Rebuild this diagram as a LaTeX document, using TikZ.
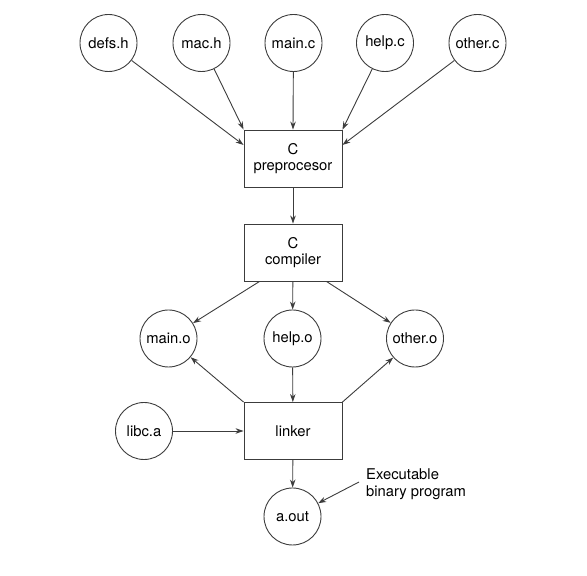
\documentclass[tikz,border=0pt]{standalone}
\usepackage{fontspec}
\setmainfont{TeX Gyre Heros}
\definecolor{LineGray}{RGB}{60, 60, 60}
\usetikzlibrary{arrows.meta, positioning, calc}

\tikzset{
    file/.style={circle, draw=LineGray, line width=0.9pt, minimum size=57pt, inner sep=0pt},
    tool/.style={rectangle, draw=LineGray, line width=0.9pt, minimum width=98pt, minimum height=57pt, align=center, inner sep=0pt},
    flow/.style={-{Stealth[length=8pt, width=5.5pt]}, draw=LineGray, line width=0.9pt}
}

\begin{document}
\begin{tikzpicture}[x=10pt, y=10pt, font=\fontsize{14.8}{16.7}\selectfont]
        \useasboundingbox (0, 0) rectangle (58.7, 57.6);

        % Source files
        \foreach \name/\x/\txt in {defs/10.85/defs.h, mach/20.15/mac.h, mainc/29.35/main.c, helpc/38.5/help.c, otherc/47.75/other.c} {
            \node[file] (\name) at (\x, 53.3) {\txt};
        }

        % Tools
        \node[tool] (pp) at (29.3, 41.75) {C\\preprocesor};
        \node[tool] (cc) at (29.3, 32.35) {C\\compiler};
        \node[tool] (ld) at (29.3, 14.5) {linker};

        % Object files
        \node[file] (maino) at (16.85, 23.75) {main.o};
        \node[file] (helpo) at (29.25, 23.75) {help.o};
        \node[file] (othero) at (41.5, 23.75) {other.o};
        \node[file] (libc) at (14.4, 14.5) {libc.a};
        \node[file] (aout) at (29.25, 5.95) {a.out};
        \node[align=left, anchor=west, inner sep=0pt] (note) at (36.6, 9.2) {Executable\\binary program};

        % Preprocessor inputs
        \draw[flow] (defs) -- ([yshift=13.5pt]pp.west);
        \draw[flow] (mach) -- (pp.north west);
        \draw[flow] (mainc) -- (pp.north);
        \draw[flow] (helpc) -- (pp.north east);
        \draw[flow] (otherc) -- ([yshift=13.5pt]pp.east);
        \draw[flow] (pp) -- (cc);

        % Compiler outputs
        \draw[flow] ([xshift=16pt]cc.south west) -- (maino);
        \draw[flow] (cc) -- (helpo);
        \draw[flow] ([xshift=-16pt]cc.south east) -- (othero);

        % Linking
        \draw[flow] (ld.north west) -- (maino);
        \draw[flow] (helpo) -- (ld);
        \draw[flow] (ld.north east) -- (othero);
        \draw[flow] (libc) -- (ld);
        \draw[flow] (ld) -- (aout);
        \draw[flow] ([xshift=-7pt, yshift=2pt]note.west) -- (aout);
    \end{tikzpicture}
\end{document}
